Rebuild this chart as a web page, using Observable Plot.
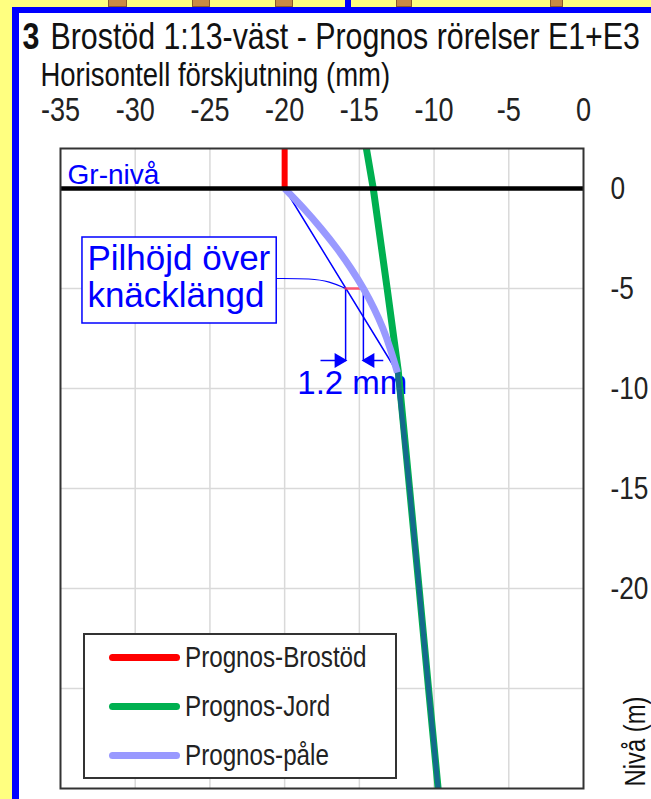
<!DOCTYPE html>
<html><head><meta charset="utf-8">
<script src="https://cdn.jsdelivr.net/npm/d3@7"></script>
<script src="https://cdn.jsdelivr.net/npm/@observablehq/plot@0.6"></script>
<style>
body{margin:0;width:651px;height:799px;overflow:hidden;background:#ffff80;position:relative;font-family:"Liberation Sans",Arial,sans-serif;}
#panel{position:absolute;left:12px;top:7px;right:0;bottom:0;background:#fff;border-left:7px solid #0000ff;border-top:6px solid #0000ff;}
.tab{position:absolute;top:0;height:7px;background:#c98a45;border:1px solid #8b5a2b;border-top:none;box-sizing:border-box;}
.vtab{position:absolute;top:0;height:7px;width:6px;background:#0000ff;}
#chart{position:absolute;left:0;top:0;}
#legend{position:absolute;left:83px;top:633px;width:314px;height:146px;box-sizing:border-box;border:2px solid #333;background:#fff;}
.lg{position:absolute;left:24px;height:40px;display:flex;align-items:center;font-size:29.5px;color:#222;white-space:nowrap}
.lg span{display:inline-block;transform:scaleX(0.82);transform-origin:0 50%}
.sw{width:71px;height:7px;border-radius:4px;margin-right:5px}
</style></head><body>
<div id="panel"></div>
<div class="tab" style="left:108px;width:19px"></div>
<div class="tab" style="left:192px;width:18px"></div>
<div class="tab" style="left:275px;width:18px"></div>
<div class="vtab" style="left:345px"></div>
<div class="tab" style="left:396px;width:16px"></div>
<div class="tab" style="left:550px;width:13px"></div>
<div id="chart"></div>
<div id="legend"></div>
<script>
// Axis ticks
const xTicks = [-35, -30, -25, -20, -15, -10, -5, 0];
const yTicks = [0, -5, -10, -15, -20];
const xGrid = [-30, -25, -20, -15, -10, -5];
const yGrid = [-5, -10, -15, -20, -25];

// Series: Prognos-Brostöd
const brostodX = [-20, -20];
const brostodY = [0, 2];
// Series: Prognos-Jord
const jordX = [-14.53, -14.07, -13.14, -12.4, -11.64, -11.0, -10.37, -9.73];
const jordY = [2, 0, -5, -9.1, -15, -20, -25, -30];
// Series: Prognos-påle (curved upper part)
const paleX = [-20, -18.72, -17.56, -16.5, -15.56, -14.73, -14.02, -13.42, -12.94, -12.45];
const paleY = [0, -1, -2, -3, -4, -5, -6, -7, -8, -9.2];
// Prognos-påle lower part (coincides with soil)
const paleLowX = [-12.45, -11.64, -11.0, -10.37, -9.73];
const paleLowY = [-9.2, -15, -20, -25, -30];

// Annotation: chord over buckling length and sag
const chordX = [-20, -12.45];
const chordY = [0, -9.2];
const sagX = [-15.92, -14.73];
const sagLevel = -5;
const dimLevel = -8.6;
const arrowFromX = [-17.6, -13.4];
const sagLabel = "1.2 mm";
const sagLabelPos = [-15.47, -10.25];
const calloutLines = ["Pilhöjd över", "knäcklängd"];
const calloutBoxX = [-33.53, -20.53];
const calloutBoxY = [-2.45, -6.75];
const calloutTextX = -33.2;
const calloutTextY = [-4.05, -5.9];
const leaderX = [-20.53, -18.2, -17.0, -15.92];
const leaderY = [-4.5, -4.5, -4.65, -5];
const groundLabel = "Gr-nivå";
const groundLabelPos = [-34.53, 0.25];

const titleNum = "3";
const title = "Brostöd 1:13-väst - Prognos rörelser E1+E3";
const xLabel = "Horisontell förskjutning (mm)";
const yLabel = "Nivå (m)";

const legendNames = ["Prognos-Brostöd", "Prognos-Jord", "Prognos-påle"];
const legendColors = ["#ff0000", "#00b050", "#9999ff"];

const zip = (xs, ys) => xs.map((x, i) => ({x, y: ys[i]}));
const BLUE = "#0000ff";
const fmt = d => String(d);

const chart = Plot.plot({
  width: 651, height: 799,
  marginTop: 148, marginRight: 68, marginBottom: 11, marginLeft: 60,
  x: {domain: [-35, 0]},
  y: {domain: [-30, 2]},
  style: {background: "none", overflow: "visible", fontFamily: '"Liberation Sans",Arial,sans-serif', color: "#222"},
  marks: [
    Plot.gridX(xGrid, {stroke: "#d9d9d9", strokeOpacity: 1, strokeWidth: 1.5}),
    Plot.gridY(yGrid, {stroke: "#d9d9d9", strokeOpacity: 1, strokeWidth: 1.5}),
    Plot.axisX(xTicks, {anchor: "top", tickSize: 0, tickPadding: 28, fontSize: 33, label: null, tickFormat: fmt}),
    Plot.axisY(yTicks, {anchor: "right", tickSize: 0, tickPadding: 27, fontSize: 32, label: null, textAnchor: "start", tickFormat: fmt}),
    Plot.text([titleNum], {frameAnchor: "top-left", dx: -38, dy: -100, lineAnchor: "bottom", textAnchor: "start", fontSize: 37, fontWeight: "bold", fill: "#111"}),
    Plot.text([title], {frameAnchor: "top-left", dx: -10, dy: -100, lineAnchor: "bottom", textAnchor: "start", fontSize: 37, fill: "#111"}),
    Plot.text([xLabel], {frameAnchor: "top-left", dx: -20, dy: -63, lineAnchor: "bottom", textAnchor: "start", fontSize: 33.5, fill: "#111"}),
    Plot.text([yLabel], {frameAnchor: "bottom-right", dx: 61, dy: -47, rotate: -90, lineAnchor: "bottom", textAnchor: "middle", fontSize: 29, fill: "#111"}),
    // callout
    Plot.rect([0], {x1: calloutBoxX[0], x2: calloutBoxX[1], y1: calloutBoxY[0], y2: calloutBoxY[1], fill: "#fff", stroke: BLUE, strokeWidth: 1.5}),
    Plot.text(calloutLines, {x: calloutTextX, y: (d, i) => calloutTextY[i], text: d => d, textAnchor: "start", lineAnchor: "bottom", fontSize: 35, fill: BLUE}),
    Plot.line(zip(leaderX, leaderY), {x: "x", y: "y", stroke: BLUE, strokeWidth: 1.2, curve: "basis"}),
    Plot.text([groundLabel], {x: groundLabelPos[0], y: groundLabelPos[1], textAnchor: "start", lineAnchor: "bottom", fontSize: 28, fill: BLUE}),
    // chord
    Plot.line(zip(chordX, chordY), {x: "x", y: "y", stroke: BLUE, strokeWidth: 1.5}),
    // dimension verticals + arrows
    Plot.link(sagX, {x1: d => d, x2: d => d, y1: sagLevel, y2: dimLevel, stroke: BLUE, strokeWidth: 1.5}),
    Plot.link(sagX, {x1: (d, i) => arrowFromX[i], x2: d => d, y1: dimLevel, y2: dimLevel, stroke: BLUE, strokeWidth: 1.5}),
    Plot.dot(sagX, {x: (d, i) => d + (i === 0 ? -0.45 : 0.45), y: dimLevel, symbol: "triangle", rotate: (d, i) => i === 0 ? 90 : -90, r: 5.5, fill: BLUE, stroke: "none"}),
    Plot.line(zip(sagX, [sagLevel, sagLevel]), {x: "x", y: "y", stroke: "#ff3355", strokeOpacity: 0.8, strokeWidth: 2.5}),
    Plot.text([sagLabel], {x: sagLabelPos[0], y: sagLabelPos[1], textAnchor: "middle", lineAnchor: "bottom", fontSize: 33, fill: BLUE}),
    // series
    Plot.line(zip(jordX, jordY), {x: "x", y: "y", stroke: "#00b050", strokeWidth: 7, clip: true}),
    Plot.line(zip(paleLowX, paleLowY), {x: "x", y: "y", stroke: "#146a8c", strokeWidth: 5, clip: true}),
    Plot.line(zip(paleX, paleY), {x: "x", y: "y", stroke: "#9999ff", strokeWidth: 7, curve: "natural", strokeLinecap: "butt"}),
    Plot.line(zip(brostodX, brostodY), {x: "x", y: "y", stroke: "#ff0000", strokeWidth: 6, strokeLinecap: "butt"}),
    Plot.ruleY([0], {stroke: "#000", strokeWidth: 4.5}),
    Plot.frame({stroke: "#333", strokeWidth: 2})
  ]
});
document.getElementById("chart").appendChild(chart);

// Condense the black (Arial Narrow-like) texts; blue annotation texts stay regular
chart.querySelectorAll("text").forEach(t => {
  const fill = getComputedStyle(t).fill;
  if (fill === "rgb(0, 0, 255)") return;
  const w = t.getComputedTextLength();
  if (w > 0) {
    t.setAttribute("textLength", (w * 0.82).toFixed(1));
    t.setAttribute("lengthAdjust", "spacingAndGlyphs");
  }
});

const lg = document.getElementById("legend");
const rowTops = [2, 51, 100];
legendNames.forEach((n, i) => {
  const row = document.createElement("div");
  row.className = "lg";
  row.style.top = rowTops[i] + "px";
  row.innerHTML = `<div class="sw" style="background:${legendColors[i]}"></div><span>${n}</span>`;
  lg.appendChild(row);
});
</script>
</body></html>
